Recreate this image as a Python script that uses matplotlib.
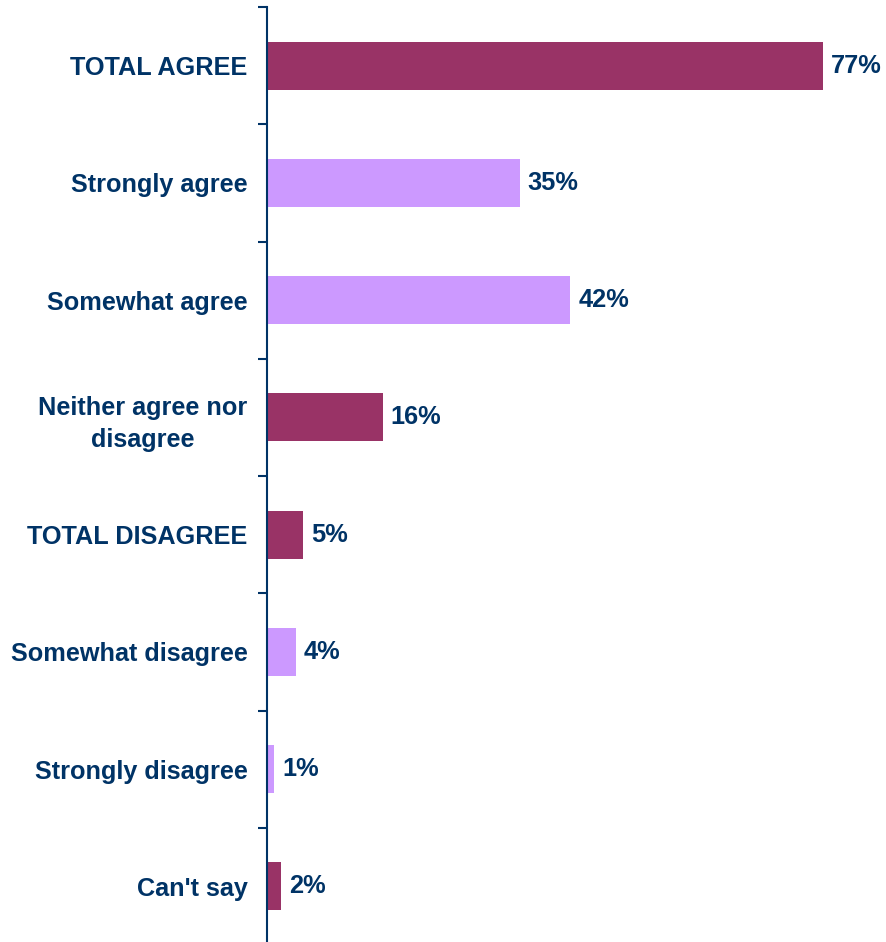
import numpy as np
import matplotlib.pyplot as plt

categories = ['TOTAL AGREE', 'Strongly agree', 'Somewhat agree',
              'Neither agree nor\ndisagree', 'TOTAL DISAGREE',
              'Somewhat disagree', 'Strongly disagree', "Can't say"]
values = [77, 35, 42, 16, 5, 4, 1, 2]
is_total = [True, False, False, True, True, False, False, True]

dark = '#993366'
light = '#CC99FF'
navy = '#003366'

plt.rcParams['font.family'] = ['Liberation Sans', 'DejaVu Sans']

fig = plt.figure(figsize=(8.87, 9.42), dpi=100)
# axes spans from the axis line to the right edge; bottom runs just past the figure
ax = fig.add_axes([267 / 887, -3 / 942, 620 / 887, 938 / 942])

n = len(categories)
y = np.arange(n)
colors = [dark if t else light for t in is_total]
ax.barh(y, values, height=0.41, color=colors, zorder=2)

for yi, v in zip(y, values):
    ax.text(v + 1.1, yi, f'{v}%', va='center', ha='left',
            fontsize=18.3, fontweight='bold', color=navy)

ax.set_xlim(0, 620 / 7.22)
ax.set_ylim(n - 0.5, -0.5)

# labels on the category centres, tick marks on the boundaries
ax.set_yticks(y)
ax.set_yticklabels(categories, fontsize=18.2, fontweight='bold', color=navy,
                   linespacing=1.42, multialignment='center')
ax.tick_params(axis='y', which='major', length=0, pad=14)
ax.set_yticks(np.arange(n) - 0.5, minor=True)
ax.tick_params(axis='y', which='minor', length=6.5, width=1.5, color=navy)

ax.set_xticks([])
for side in ['top', 'right', 'bottom']:
    ax.spines[side].set_visible(False)
ax.spines['left'].set_color(navy)
ax.spines['left'].set_linewidth(1.5)

fig.savefig('out.png', dpi=100)
